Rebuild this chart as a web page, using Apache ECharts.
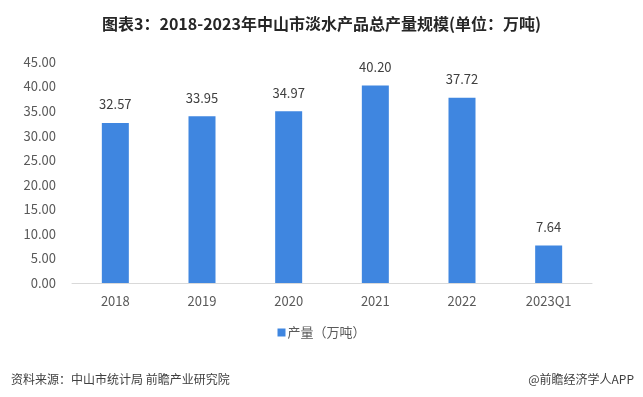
<!DOCTYPE html>
<html>
<head>
<meta charset="utf-8">
<script src="https://cdn.jsdelivr.net/npm/echarts@6/dist/echarts.min.js"></script>
<style>
html, body { margin: 0; padding: 0; background: #fff; }
#chart { width: 643px; height: 397px; }
</style>
</head>
<body>
<div id="chart"></div>
<script>
const categories = ['2018', '2019', '2020', '2021', '2022', '2023Q1'];
const output = [32.57, 33.95, 34.97, 40.20, 37.72, 7.64];
const seriesName = '产量（万吨）';

const font = '"Microsoft YaHei", "Noto Sans CJK SC", sans-serif';
const chart = echarts.init(document.getElementById('chart'));

chart.setOption({
	backgroundColor: '#fff',
	textStyle: { fontFamily: font },
	title: [
		{
			text: '图表3：2018-2023年中山市淡水产品总产量规模(单位：万吨)',
			left: 'center',
			top: 11,
			textStyle: { fontSize: 16, fontWeight: 'bold', color: '#262626', fontFamily: font }
		},
		{
			text: '资料来源：中山市统计局 前瞻产业研究院',
			left: 6,
			top: 368,
			textStyle: { fontSize: 12, fontWeight: 'normal', color: '#404040', fontFamily: font }
		},
		{
			text: '@前瞻经济学人APP',
			right: 4,
			top: 368,
			textStyle: { fontSize: 12, fontWeight: 'normal', color: '#404040', fontFamily: font }
		}
	],
	legend: {
		data: [seriesName],
		left: 'center',
		top: 321,
		itemWidth: 8,
		itemHeight: 8,
		itemGap: 2,
		icon: 'rect',
		textStyle: { fontSize: 13, color: '#595959', padding: [0, 0, 0, -3] }
	},
	grid: {
		left: 72,
		right: 51,
		top: 62,
		bottom: 114
	},
	xAxis: {
		type: 'category',
		data: categories,
		axisLine: { lineStyle: { color: '#d9d9d9' } },
		axisTick: { show: false },
		axisLabel: { fontSize: 13, color: '#595959', margin: 12 }
	},
	yAxis: {
		type: 'value',
		min: 0,
		max: 45,
		interval: 5,
		splitLine: { show: false },
		axisLine: { show: false },
		axisTick: { show: false },
		axisLabel: {
			fontSize: 13,
			color: '#595959',
			margin: 16,
			formatter: v => v.toFixed(2)
		}
	},
	series: [
		{
			name: seriesName,
			type: 'bar',
			data: output,
			barWidth: 27,
			itemStyle: { color: '#3f86e0' },
			label: {
				show: true,
				position: 'top',
				distance: 12,
				fontSize: 13,
				color: '#404040',
				formatter: p => p.value.toFixed(2)
			}
		}
	]
});
</script>
</body>
</html>
